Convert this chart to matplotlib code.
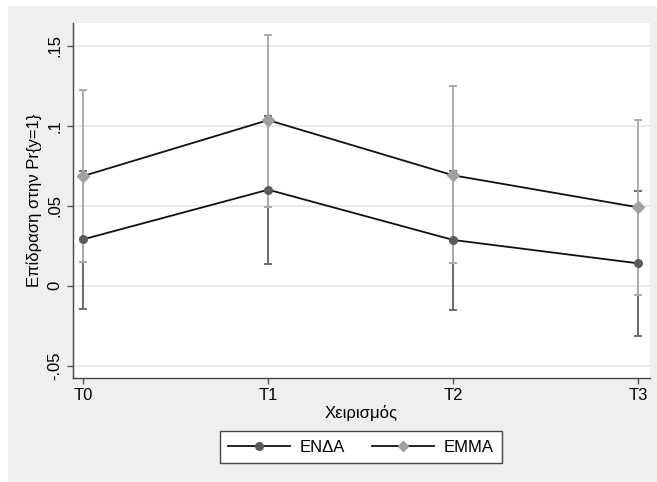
import matplotlib.pyplot as plt
from matplotlib.lines import Line2D
from matplotlib.patches import Rectangle

plt.rcParams["font.family"] = ["Liberation Sans", "DejaVu Sans"]

treatments = ["T0", "T1", "T2", "T3"]
enda = [0.029, 0.060, 0.0286, 0.014]
enda_lo = [-0.0148, 0.0136, -0.0152, -0.0314]
enda_hi = [0.0717, 0.106, 0.072, 0.0594]
emma = [0.0686, 0.1035, 0.069, 0.049]
emma_lo = [0.0146, 0.0494, 0.014, -0.0056]
emma_hi = [0.1223, 0.157, 0.125, 0.1037]
yticks = [-0.05, 0, 0.05, 0.1, 0.15]
ytick_labels = ["-.05", "0", ".05", ".1", ".15"]

W, H = 657, 482
fig = plt.figure(figsize=(W / 100, H / 100), dpi=100)
fig.patch.set_facecolor("white")
fig.patches.append(Rectangle((8 / W, 0), 649 / W, 476 / H, transform=fig.transFigure,
                             facecolor="#efefef", edgecolor="none", zorder=-5))

ax = fig.add_axes([73 / W, 1 - 378 / H, 577 / W, 355.3 / H])
ax.set_facecolor("white")
x = list(range(len(treatments)))

ax.plot(x, enda, color="#111111", lw=1.3, zorder=2)
ax.plot(x, emma, color="#111111", lw=1.3, zorder=2)

ax.errorbar(x, enda, yerr=[[e - l for e, l in zip(enda, enda_lo)], [h - e for e, h in zip(enda, enda_hi)]],
            fmt="none", ecolor="#6a6a6a", elinewidth=1.4, capsize=3, capthick=1.4, zorder=3)
ax.errorbar(x, emma, yerr=[[e - l for e, l in zip(emma, emma_lo)], [h - e for e, h in zip(emma, emma_hi)]],
            fmt="none", ecolor="#ababab", elinewidth=1.4, capsize=3, capthick=1.4, zorder=4)

ax.plot(x, enda, "o", color="#5a5a5a", ms=5.5, mec="#5a5a5a", zorder=5)
ax.plot(x, emma, "D", color="#a0a0a0", ms=6, mec="#a0a0a0", zorder=5)

ax.set_xlim(-0.056, 3.065)
ax.set_ylim(-0.0577, 0.1644)
ax.set_xticks(x)
ax.set_xticklabels(treatments, fontsize=12)
ax.set_yticks(yticks)
ax.set_yticklabels(ytick_labels, fontsize=12, rotation=90, va="center")
ax.grid(axis="y", color="#e6e6e6", lw=1.2)
ax.set_axisbelow(True)
ax.tick_params(length=4, color="#555555", width=1)
for s in ["top", "right"]:
    ax.spines[s].set_visible(False)
for s in ["left", "bottom"]:
    ax.spines[s].set_color("#444444")
    ax.spines[s].set_linewidth(1)

ax.set_xlabel("Χειρισμός", fontsize=12, labelpad=1)
ax.set_ylabel("Επίδραση στην Pr{y=1}", fontsize=12, labelpad=4)

handles = [
    Line2D([], [], color="#111111", lw=1.3, marker="o", ms=5.5, mfc="#5a5a5a", mec="#5a5a5a"),
    Line2D([], [], color="#111111", lw=1.3, marker="D", ms=5.5, mfc="#a0a0a0", mec="#a0a0a0"),
]
leg = fig.legend(handles, ["ΕΝΔΑ", "ΕΜΜΑ"], loc="center", bbox_to_anchor=(361 / W, 1 - 447 / H),
                 ncol=2, fontsize=12, frameon=True, fancybox=False, edgecolor="#444444",
                 handlelength=3.7, handletextpad=0.6, columnspacing=1.6, borderpad=0.5,
                 framealpha=1)
leg.get_frame().set_linewidth(1)

fig.savefig("out.png", dpi=100)
